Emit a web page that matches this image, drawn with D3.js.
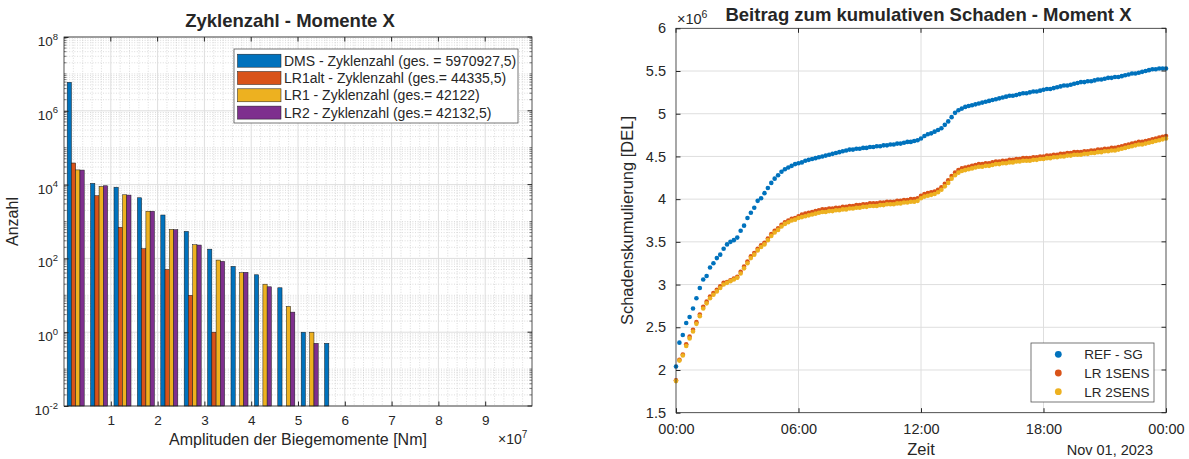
<!DOCTYPE html>
<html>
<head>
<meta charset="utf-8">
<script src="https://cdn.jsdelivr.net/npm/d3@7"></script>
<style>
  body { margin: 0; background: #fff; }
  svg { display: block; }
  text { font-family: "Liberation Sans", Arial, Helvetica, sans-serif; fill: #262626; }
</style>
</head>
<body>
<svg id="chart" width="1189" height="459"></svg>
<script>
// ---------- Left panel: cycle counts per bending-moment amplitude bin ----------
const binCenters = [0.25e7, 0.75e7, 1.25e7, 1.75e7, 2.25e7, 2.75e7, 3.25e7, 3.75e7, 4.25e7, 4.75e7, 5.25e7, 5.75e7];
const countSeries = ["DMS", "LR1alt", "LR1", "LR2"];
const countLabels = [
  "DMS - Zyklenzahl (ges. = 5970927,5)",
  "LR1alt - Zyklenzahl (ges.= 44335,5)",
  "LR1 - Zyklenzahl (ges.= 42122)",
  "LR2 - Zyklenzahl (ges.= 42132,5)"
];
const countsDMS    = [5944895, 10800, 8500, 4400, 1500, 540, 178, 61, 36, 16, 1, 0.5];
const countsLR1alt = [38391.5, 5000, 700, 183, 50, 10, 1, 0, 0, 0, 0, 0];
const countsLR1    = [25020, 8900, 5300, 1900, 610, 235, 90, 41, 20, 5, 1, 0];
const countsLR2    = [24756.5, 9300, 5200, 1900, 600, 230, 83, 42, 17, 3.5, 0.5, 0];
const countColors  = ["#0072BD", "#D95319", "#EDB120", "#7E2F8E"];
const xTicksLeft   = [1e7, 2e7, 3e7, 4e7, 5e7, 6e7, 7e7, 8e7, 9e7];
const yExponents   = [-2, 0, 2, 4, 6, 8];

// ---------- Right panel: cumulative damage over one day (x 10^6) ----------
const dayStart = new Date(2023, 10, 1, 0, 0);
const sampleMinutes = 10;
const damageNames  = ["REF - SG", "LR 1SENS", "LR 2SENS"];
const damageColors = ["#0072BD", "#D95319", "#EDB120"];
const damageRefSG = [
  2.04, 2.32, 2.41, 2.55, 2.62, 2.72, 2.84, 2.96, 3.06, 3.10, 3.20, 3.25,
  3.31, 3.35, 3.42, 3.47, 3.50, 3.52, 3.55, 3.63, 3.69, 3.78, 3.84, 3.90,
  3.98, 4.01, 4.07, 4.13, 4.19, 4.24, 4.28, 4.32, 4.35, 4.37, 4.39, 4.41,
  4.42, 4.43, 4.45, 4.46, 4.47, 4.48, 4.49, 4.50, 4.51, 4.52, 4.53, 4.54,
  4.55, 4.56, 4.57, 4.58, 4.58, 4.59, 4.59, 4.60, 4.60, 4.61, 4.61, 4.62,
  4.62, 4.63, 4.63, 4.64, 4.64, 4.65, 4.65, 4.66, 4.67, 4.67, 4.68, 4.69,
  4.71, 4.74, 4.76, 4.77, 4.79, 4.81, 4.83, 4.87, 4.91, 4.96, 5.01, 5.04,
  5.06, 5.08, 5.09, 5.10, 5.11, 5.12, 5.13, 5.14, 5.15, 5.16, 5.17, 5.18,
  5.19, 5.20, 5.21, 5.21, 5.22, 5.23, 5.24, 5.24, 5.25, 5.26, 5.26, 5.27,
  5.28, 5.29, 5.29, 5.30, 5.31, 5.32, 5.33, 5.33, 5.34, 5.35, 5.36, 5.37,
  5.37, 5.38, 5.38, 5.39, 5.40, 5.40, 5.41, 5.42, 5.42, 5.43, 5.43, 5.44,
  5.45, 5.46, 5.47, 5.47, 5.48, 5.49, 5.50, 5.51, 5.52, 5.52, 5.53, 5.53,
  5.53
];
const damageLR1Sens = [
  1.88, 2.12, 2.18, 2.30, 2.39, 2.47, 2.56, 2.65, 2.74, 2.80, 2.86, 2.90,
  2.94, 2.98, 3.02, 3.03, 3.05, 3.07, 3.09, 3.15, 3.21, 3.27, 3.33, 3.37,
  3.42, 3.46, 3.49, 3.54, 3.59, 3.63, 3.66, 3.70, 3.73, 3.75, 3.77, 3.78,
  3.80, 3.82, 3.83, 3.84, 3.85, 3.86, 3.87, 3.88, 3.88, 3.89, 3.89, 3.90,
  3.90, 3.91, 3.91, 3.92, 3.92, 3.93, 3.93, 3.94, 3.94, 3.95, 3.95, 3.95,
  3.96, 3.96, 3.97, 3.97, 3.97, 3.98, 3.98, 3.99, 3.99, 4.00, 4.00, 4.01,
  4.04, 4.06, 4.07, 4.08, 4.09, 4.11, 4.14, 4.18, 4.22, 4.27, 4.31, 4.34,
  4.36, 4.37, 4.38, 4.39, 4.40, 4.41, 4.41, 4.42, 4.42, 4.43, 4.44, 4.44,
  4.45, 4.45, 4.46, 4.46, 4.47, 4.47, 4.48, 4.48, 4.48, 4.49, 4.49, 4.50,
  4.50, 4.51, 4.51, 4.52, 4.52, 4.53, 4.53, 4.54, 4.54, 4.55, 4.55, 4.55,
  4.56, 4.56, 4.57, 4.57, 4.58, 4.58, 4.59, 4.59, 4.60, 4.60, 4.61, 4.62,
  4.63, 4.64, 4.65, 4.66, 4.67, 4.67, 4.68, 4.69, 4.70, 4.71, 4.72, 4.73,
  4.74
];
const damageLR2Sens = [
  1.87, 2.11, 2.17, 2.28, 2.37, 2.45, 2.54, 2.63, 2.72, 2.78, 2.84, 2.88,
  2.92, 2.96, 3.00, 3.02, 3.04, 3.06, 3.08, 3.13, 3.19, 3.25, 3.31, 3.35,
  3.40, 3.44, 3.47, 3.52, 3.57, 3.61, 3.64, 3.68, 3.71, 3.73, 3.75, 3.76,
  3.78, 3.79, 3.80, 3.81, 3.82, 3.83, 3.84, 3.85, 3.85, 3.86, 3.86, 3.87,
  3.87, 3.88, 3.88, 3.89, 3.89, 3.90, 3.90, 3.91, 3.91, 3.92, 3.92, 3.92,
  3.93, 3.93, 3.94, 3.94, 3.94, 3.95, 3.95, 3.96, 3.96, 3.97, 3.97, 3.98,
  4.01, 4.03, 4.04, 4.05, 4.06, 4.08, 4.11, 4.15, 4.19, 4.24, 4.28, 4.31,
  4.33, 4.34, 4.35, 4.36, 4.37, 4.38, 4.38, 4.39, 4.39, 4.40, 4.41, 4.41,
  4.42, 4.42, 4.43, 4.43, 4.44, 4.44, 4.45, 4.45, 4.45, 4.46, 4.46, 4.47,
  4.47, 4.48, 4.48, 4.49, 4.49, 4.50, 4.50, 4.51, 4.51, 4.52, 4.52, 4.52,
  4.53, 4.53, 4.54, 4.54, 4.55, 4.55, 4.56, 4.56, 4.57, 4.57, 4.58, 4.59,
  4.60, 4.61, 4.62, 4.63, 4.64, 4.64, 4.65, 4.66, 4.67, 4.68, 4.69, 4.70,
  4.71
];
const yTicksRight = [1.5, 2, 2.5, 3, 3.5, 4, 4.5, 5, 5.5, 6];

const svg = d3.select("#chart");
const AXIS = "#262626";
const GRID = "#dedede";
const MINOR = "#c4c4c4";

// ===================== Left panel =====================
const L = { x0: 64, x1: 532, y0: 37, y1: 406 };
const xL = d3.scaleLinear().domain([0, 1e8]).range([L.x0, L.x1]);
const yL = d3.scaleLog().domain([1e-2, 1e8]).range([L.y1, L.y0]);
const left = svg.append("g");

// minor grid (log decades and subdivisions, 0.2e7 steps on x)
const yMinor = [];
for (let e = -2; e < 8; e++) for (let m = 1; m <= 9; m++) {
  const v = m * Math.pow(10, e);
  if (!(m === 1 && e % 2 === 0)) yMinor.push(v);
}
const xMinor = d3.range(1, 50).map(k => k * 0.2e7).filter(v => Math.abs((v / 1e7) - Math.round(v / 1e7)) > 1e-6);
left.append("g").selectAll("line").data(yMinor).join("line")
  .attr("x1", L.x0).attr("x2", L.x1).attr("y1", d => yL(d)).attr("y2", d => yL(d))
  .attr("stroke", MINOR).attr("stroke-width", 0.6).attr("stroke-dasharray", "1,1.6");
left.append("g").selectAll("line").data(xMinor).join("line")
  .attr("x1", d => xL(d)).attr("x2", d => xL(d)).attr("y1", L.y0).attr("y2", L.y1)
  .attr("stroke", MINOR).attr("stroke-width", 0.6).attr("stroke-dasharray", "1,1.6");
// major grid
const yMajor = yExponents.map(e => Math.pow(10, e));
left.append("g").selectAll("line").data(yMajor).join("line")
  .attr("x1", L.x0).attr("x2", L.x1).attr("y1", d => yL(d)).attr("y2", d => yL(d))
  .attr("stroke", GRID).attr("stroke-width", 1);
left.append("g").selectAll("line").data(xTicksLeft).join("line")
  .attr("x1", d => xL(d)).attr("x2", d => xL(d)).attr("y1", L.y0).attr("y2", L.y1)
  .attr("stroke", GRID).attr("stroke-width", 1);

// grouped bars
const countTable = [countsDMS, countsLR1alt, countsLR1, countsLR2];
const groupWidth = xL(0.364e7) - xL(0);
const inner = d3.scaleBand().domain(countSeries).range([-groupWidth / 2, groupWidth / 2]).padding(0);
countSeries.forEach((name, si) => {
  const data = binCenters.map((c, bi) => ({ c, v: countTable[si][bi] })).filter(d => d.v > 0);
  left.append("g").selectAll("rect").data(data).join("rect")
    .attr("x", d => xL(d.c) + inner(name))
    .attr("width", inner.bandwidth())
    .attr("y", d => yL(d.v))
    .attr("height", d => L.y1 - yL(d.v))
    .attr("fill", countColors[si])
    .attr("stroke", "#1a1a1a").attr("stroke-width", 0.5);
});

// axes
const axXL = left.append("g").attr("transform", `translate(0,${L.y1})`)
  .call(d3.axisBottom(xL).tickValues(xTicksLeft).tickSizeInner(-4.5).tickSizeOuter(0)
    .tickFormat(d => d / 1e7).tickPadding(9));
const axYL = left.append("g").attr("transform", `translate(${L.x0},0)`)
  .call(d3.axisLeft(yL).tickValues(yMajor).tickSizeInner(-4.5).tickSizeOuter(0).tickFormat(""));
[axXL, axYL].forEach(a => {
  a.select(".domain").remove();
  a.selectAll("line").attr("stroke", AXIS);
  a.selectAll("text").attr("font-size", 13.5).attr("fill", AXIS).attr("font-family", '"Liberation Sans", Arial, sans-serif');
});
// mirrored ticks on the top and right edges
left.append("g").selectAll("line").data(xTicksLeft).join("line")
  .attr("x1", d => xL(d)).attr("x2", d => xL(d)).attr("y1", L.y0).attr("y2", L.y0 + 4.5).attr("stroke", AXIS);
left.append("g").selectAll("line").data(yMajor).join("line")
  .attr("x1", L.x1).attr("x2", L.x1 - 4.5).attr("y1", d => yL(d)).attr("y2", d => yL(d)).attr("stroke", AXIS);
// minor y ticks
left.append("g").selectAll("line").data(yMinor).join("line")
  .attr("x1", L.x0).attr("x2", L.x0 + 2.5).attr("y1", d => yL(d)).attr("y2", d => yL(d)).attr("stroke", AXIS).attr("stroke-width", 0.6);
left.append("g").selectAll("line").data(yMinor).join("line")
  .attr("x1", L.x1).attr("x2", L.x1 - 2.5).attr("y1", d => yL(d)).attr("y2", d => yL(d)).attr("stroke", AXIS).attr("stroke-width", 0.6);
// box
left.append("rect").attr("x", L.x0).attr("y", L.y0).attr("width", L.x1 - L.x0).attr("height", L.y1 - L.y0)
  .attr("fill", "none").attr("stroke", AXIS).attr("stroke-width", 0.8);

// y tick labels 10^k
const yLab = left.append("g").selectAll("text").data(yExponents).join("text")
  .attr("x", L.x0 - 6).attr("y", d => yL(Math.pow(10, d)) + 9)
  .attr("text-anchor", "end").attr("font-size", 13.5).attr("fill", AXIS);
yLab.append("tspan").text("10");
yLab.append("tspan").attr("dy", -6.5).attr("font-size", 9.5).text(d => d);

// axis titles
left.append("text").attr("x", 290).attr("y", 26.5).attr("text-anchor", "middle")
  .attr("font-size", 18.5).attr("font-weight", "bold").attr("fill", "#000").text("Zyklenzahl - Momente X");
left.append("text").attr("x", (L.x0 + L.x1) / 2).attr("y", 445).attr("text-anchor", "middle")
  .attr("font-size", 16).attr("fill", AXIS).text("Amplituden der Biegemomente [Nm]");
left.append("text").attr("transform", `translate(18,${(L.y0 + L.y1) / 2}) rotate(-90)`)
  .attr("text-anchor", "middle").attr("font-size", 16).attr("fill", AXIS).text("Anzahl");
const mult = left.append("text").attr("x", 498).attr("y", 444).attr("font-size", 14).attr("fill", "#555");
mult.append("tspan").text("\u00d710");
mult.append("tspan").attr("dy", -6.5).attr("font-size", 10).text("7");

// legend
const lg = left.append("g");
lg.append("rect").attr("x", 234).attr("y", 49).attr("width", 284).attr("height", 74)
  .attr("fill", "#fff").attr("stroke", "#555").attr("stroke-width", 0.8);
countLabels.forEach((t, i) => {
  const cy = 60.7 + i * 17.3;
  lg.append("rect").attr("x", 237.5).attr("y", cy - 6.5).attr("width", 43.5).attr("height", 13)
    .attr("fill", countColors[i]).attr("stroke", "#1a1a1a").attr("stroke-width", 0.5);
  lg.append("text").attr("x", 284).attr("y", cy + 5).attr("font-size", 14).attr("fill", "#000").text(t);
});

// ===================== Right panel =====================
const R = { x0: 676, x1: 1166, y0: 28.3, y1: 412.7 };
const dayEnd = d3.timeDay.offset(dayStart, 1);
const xR = d3.scaleTime().domain([dayStart, dayEnd]).range([R.x0, R.x1]);
const yR = d3.scaleLinear().domain([1.5, 6]).range([R.y1, R.y0]);
const right = svg.append("g");
const xTicksRight = d3.timeHour.every(6).range(dayStart, d3.timeMinute.offset(dayEnd, 1));

// grid
right.append("g").selectAll("line").data(yTicksRight.slice(1, -1)).join("line")
  .attr("x1", R.x0).attr("x2", R.x1).attr("y1", d => yR(d)).attr("y2", d => yR(d))
  .attr("stroke", GRID).attr("stroke-width", 1);
right.append("g").selectAll("line").data(xTicksRight.slice(1, -1)).join("line")
  .attr("x1", d => xR(d)).attr("x2", d => xR(d)).attr("y1", R.y0).attr("y2", R.y1)
  .attr("stroke", GRID).attr("stroke-width", 1);

// dots
const damageTable = [damageRefSG, damageLR1Sens, damageLR2Sens];
damageTable.forEach((vals, si) => {
  right.append("g").selectAll("circle").data(vals).join("circle")
    .attr("cx", (d, i) => xR(d3.timeMinute.offset(dayStart, i * sampleMinutes)))
    .attr("cy", d => yR(d))
    .attr("r", 2.3)
    .attr("fill", damageColors[si]);
});

// axes
const axXR = right.append("g").attr("transform", `translate(0,${R.y1})`)
  .call(d3.axisBottom(xR).tickValues(xTicksRight).tickSizeInner(-4.5).tickSizeOuter(0)
    .tickFormat(d3.timeFormat("%H:%M")).tickPadding(11));
const axYR = right.append("g").attr("transform", `translate(${R.x0},0)`)
  .call(d3.axisLeft(yR).tickValues(yTicksRight).tickSizeInner(-4.5).tickSizeOuter(0)
    .tickFormat(d => String(d)).tickPadding(10));
[axXR, axYR].forEach(a => {
  a.select(".domain").remove();
  a.selectAll("line").attr("stroke", AXIS);
  a.selectAll("text").attr("font-size", 14.5).attr("fill", AXIS).attr("font-family", '"Liberation Sans", Arial, sans-serif');
});
right.append("g").selectAll("line").data(xTicksRight).join("line")
  .attr("x1", d => xR(d)).attr("x2", d => xR(d)).attr("y1", R.y0).attr("y2", R.y0 + 4.5).attr("stroke", AXIS);
right.append("g").selectAll("line").data(yTicksRight).join("line")
  .attr("x1", R.x1).attr("x2", R.x1 - 4.5).attr("y1", d => yR(d)).attr("y2", d => yR(d)).attr("stroke", AXIS);
right.append("rect").attr("x", R.x0).attr("y", R.y0).attr("width", R.x1 - R.x0).attr("height", R.y1 - R.y0)
  .attr("fill", "none").attr("stroke", AXIS).attr("stroke-width", 0.8);

// titles
right.append("text").attr("x", 928.5).attr("y", 21).attr("text-anchor", "middle")
  .attr("font-size", 18.5).attr("font-weight", "bold").attr("fill", "#000")
  .text("Beitrag zum kumulativen Schaden - Moment X");
right.append("text").attr("transform", `translate(633,${(R.y0 + R.y1) / 2}) rotate(-90)`)
  .attr("text-anchor", "middle").attr("font-size", 16.5).attr("fill", AXIS).text("Schadenskumulierung [DEL]");
right.append("text").attr("x", xR(d3.timeHour.offset(dayStart, 12))).attr("y", 455).attr("text-anchor", "middle")
  .attr("font-size", 16.5).attr("fill", AXIS).text("Zeit");
right.append("text").attr("x", 1153).attr("y", 455).attr("text-anchor", "end")
  .attr("font-size", 14.5).attr("fill", AXIS).text(d3.timeFormat("%b %d, %Y")(dayStart));
const multR = right.append("text").attr("x", 677).attr("y", 24).attr("font-size", 14.5).attr("fill", "#555");
multR.append("tspan").text("\u00d710");
multR.append("tspan").attr("dy", -6.5).attr("font-size", 10.5).text("6");

// legend
const lgR = right.append("g");
lgR.append("rect").attr("x", 1031).attr("y", 343).attr("width", 123).attr("height", 59)
  .attr("fill", "#fff").attr("stroke", "#555").attr("stroke-width", 0.8);
damageNames.forEach((t, i) => {
  const cy = 354.3 + i * 18.7;
  lgR.append("circle").attr("cx", 1058.3).attr("cy", cy).attr("r", 3.4).attr("fill", damageColors[i]);
  lgR.append("text").attr("x", 1084.3).attr("y", cy + 5).attr("font-size", 13.5).attr("fill", AXIS).text(t);
});
</script>
</body>
</html>
